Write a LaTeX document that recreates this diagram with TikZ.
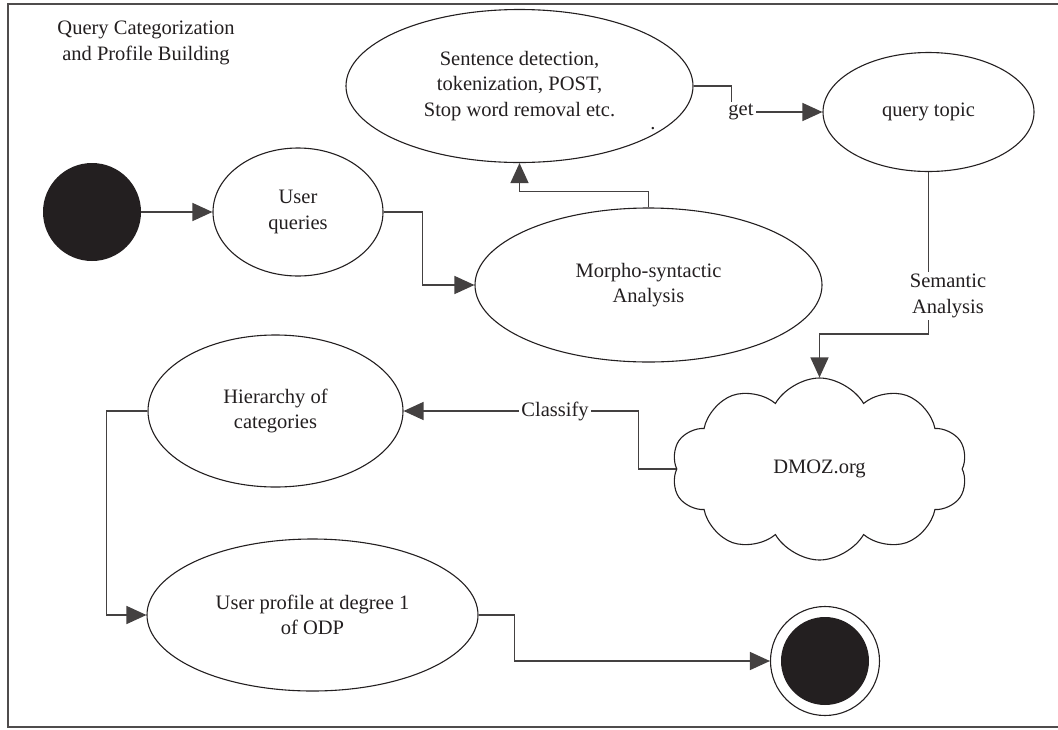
\documentclass[tikz,border=0pt]{standalone}
\usepackage{fontspec}
\setmainfont{Liberation Serif}
\usetikzlibrary{arrows.meta,shapes.symbols,shapes.geometric}
\definecolor{ink}{HTML}{231F20}
\begin{document}
\begin{tikzpicture}[x=1pt,y=-1pt,
  every node/.style={font=\fontsize{20.5}{25.5}\selectfont, text=ink},
  state/.style={ellipse, draw=ink, line width=1.1pt, inner sep=0pt, align=center},
  conn/.style={draw=ink!85, line width=1.4pt},
  arr/.style={conn, -{Triangle[length=20pt,width=18pt]}},
  lbl/.style={fill=white, inner sep=2pt, align=center}]
\useasboundingbox (0,0) rectangle (1058,729);
\draw[ink!80, line width=2pt] (1062,4) -- (8,4) -- (8,727) -- (1062,727);

\node[align=center] (title) at (146,43) {Query Categorization\\and Profile Building};

\node[circle, fill=ink, minimum size=98, inner sep=0] (start) at (92,212) {};
\node[state, minimum width=170, minimum height=128] (uq) at (298,212) {User\\queries};
\node[state, minimum width=347, minimum height=153] (sd) at (519.5,86) {Sentence detection,\\tokenization, POST,\\Stop word removal etc.};
\node[state, minimum width=211, minimum height=119] (qt) at (928.5,112) {query topic};
\node[state, minimum width=347, minimum height=154] (ms) at (648.5,285) {Morpho-syntactic\\Analysis};
\node[state, minimum width=255, minimum height=152] (hc) at (275.5,411) {Hierarchy of\\categories};
\node[state, minimum width=331, minimum height=152] (up) at (312.5,615) {User profile at degree 1\\of ODP};
\node[cloud, draw=ink, line width=1.1pt, cloud puffs=10, cloud puff arc=120, aspect=1.6, minimum width=296, minimum height=182, inner sep=0pt] (dm) at (819.5,469) {DMOZ.org};
\node[circle, draw=ink, line width=1.1pt, minimum size=109, inner sep=0] (end) at (825,661) {};
\node[circle, fill=ink, minimum size=88, inner sep=0] (endin) at (end.center) {};
\node[anchor=base, inner sep=0pt] (dot) at (653,129) {.};

\draw[arr] (start.east) -- (uq.west);
\draw[arr] (uq.east) -- ++(39,0) |- (ms.west);
\draw[arr] (ms.north) -- ++(0,-16) -| (sd.south);
\draw[arr] (sd.east) -- ++(38,0) |- (qt.west);
\node[lbl] (get) at (741,112) {get};
\draw[arr] (qt.south) -- ++(0,162) -| (dm.north);
\node[lbl] (sem) at (948,296) {Semantic\\Analysis};
\draw[arr] (dm.west) -- ++(-38,0) |- (hc.east);
\node[lbl] (cls) at (555,411) {Classify};
\draw[arr] (hc.west) -- ++(-41,0) |- (up.west);
\draw[arr] (up.east) -- ++(36,0) |- (end.west);
\end{tikzpicture}
\end{document}
